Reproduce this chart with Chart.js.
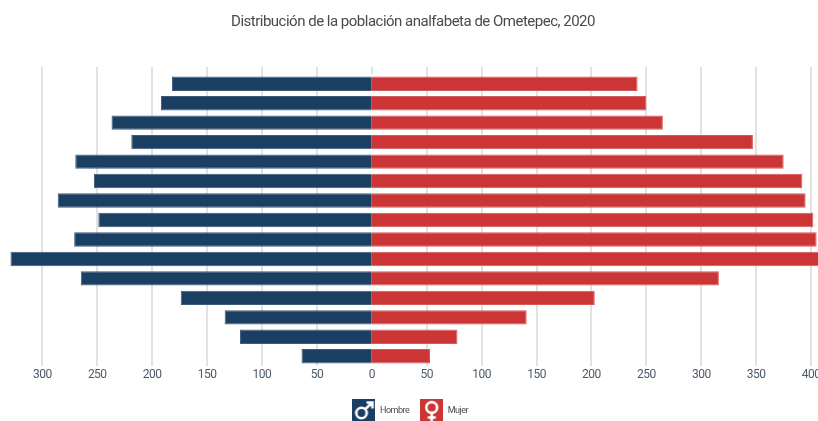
<!DOCTYPE html>
<html><head><meta charset="utf-8">
<style>html,body{margin:0;padding:0;width:818px;height:421px;overflow:hidden;background:#fff}
#wrap{position:absolute;left:-80px;top:0;width:1016px;height:425px}</style>
<script src="https://cdn.jsdelivr.net/npm/chart.js@4"></script>
</head><body><div id="wrap"><canvas id="c" width="1016" height="425"></canvas></div>
<script>
const categories=["85+","80-84","75-79","70-74","65-69","60-64","55-59","50-54","45-49","40-44","35-39","30-34","25-29","20-24","15-19"];
const hombre=[182,192,237,219,270,253,286,249,271,329,265,174,134,120,64];
const mujer=[242,250,265,347,375,392,395,402,405,410,316,203,141,78,53];
const seriesNames=["Hombre","Mujer"];
const titleText="Distribución de la población analfabeta de Ometepec, 2020";
const FONT='Roboto,"Open Sans",sans-serif';
function icon(color,male){
  const s=23,cv=document.createElement('canvas');cv.width=s;cv.height=s;
  const g=cv.getContext('2d');
  g.fillStyle=color;g.fillRect(0,0,s,s);
  g.strokeStyle='#fff';g.lineWidth=2.6;
  g.beginPath();
  if(male){
    g.arc(9,14,5.2,0,Math.PI*2);
    g.moveTo(12.7,10.3);g.lineTo(19.5,3.5);
    g.moveTo(14,3.5);g.lineTo(20,3.5);g.lineTo(20,9.5);
  }else{
    g.arc(11.5,8.5,5.4,0,Math.PI*2);
    g.moveTo(11.5,13.9);g.lineTo(11.5,23);
    g.moveTo(7.5,18.5);g.lineTo(15.5,18.5);
  }
  g.stroke();return cv;
}
const BLUE='#1b3f63',RED='#cb3535';
const condensed={id:'condensed',beforeDraw(chart){chart.ctx.letterSpacing='-0.5px';}};
const axisX={min:-400,max:475};
new Chart(document.getElementById('c'),{
  type:'bar',
  data:{labels:categories,datasets:[
    {label:seriesNames[0],data:hombre.map(v=>-v),backgroundColor:BLUE,borderColor:'#3d5c7c',borderWidth:{top:1,bottom:1,left:1,right:0},borderSkipped:false,inflateAmount:0,grouped:false,barPercentage:.74,categoryPercentage:1},
    {label:seriesNames[1],data:mujer,backgroundColor:RED,borderColor:'#d65a5a',borderWidth:{top:1,bottom:1,left:0,right:1},borderSkipped:false,inflateAmount:0,grouped:false,barPercentage:.74,categoryPercentage:1}
  ]},
  plugins:[condensed],
  options:{
    indexAxis:'y',responsive:false,animation:false,
    layout:{padding:{left:12.5,right:42.5,top:0,bottom:0}},
    scales:{
      x:{...axisX,afterFit:s=>{s.height+=10.6;},
        ticks:{stepSize:50,autoSkip:false,maxRotation:0,color:'#4d5a6a',padding:2,font:{family:FONT,size:12},callback:v=>Math.abs(v)},
        grid:{color:'#e2e2e2',lineWidth:c=>c.tick&&c.tick.value===0?0:2,drawTicks:false},border:{display:false}},
      x2:{position:'top',...axisX,
        ticks:{stepSize:50,autoSkip:false,display:false},
        grid:{drawOnChartArea:false,drawTicks:true,tickLength:7,color:'#e2e2e2',lineWidth:2},border:{display:false}},
      y:{display:false}
    },
    plugins:{
      tooltip:{enabled:false},
      title:{display:true,text:titleText,color:'#4a4a4a',font:{family:FONT,size:15,weight:'normal'},padding:{top:13,bottom:36}},
      legend:{position:'bottom',align:'center',
        labels:{usePointStyle:true,pointStyleWidth:23,color:'#4a4a4a',font:{family:FONT,size:9},padding:11,
          generateLabels:()=>[
            {text:seriesNames[0],pointStyle:icon(BLUE,true),fontColor:'#4a4a4a',datasetIndex:0,lineWidth:0},
            {text:seriesNames[1],pointStyle:icon(RED,false),fontColor:'#4a4a4a',datasetIndex:1,lineWidth:0}
          ]}}
    }
  }
});
</script></body></html>
